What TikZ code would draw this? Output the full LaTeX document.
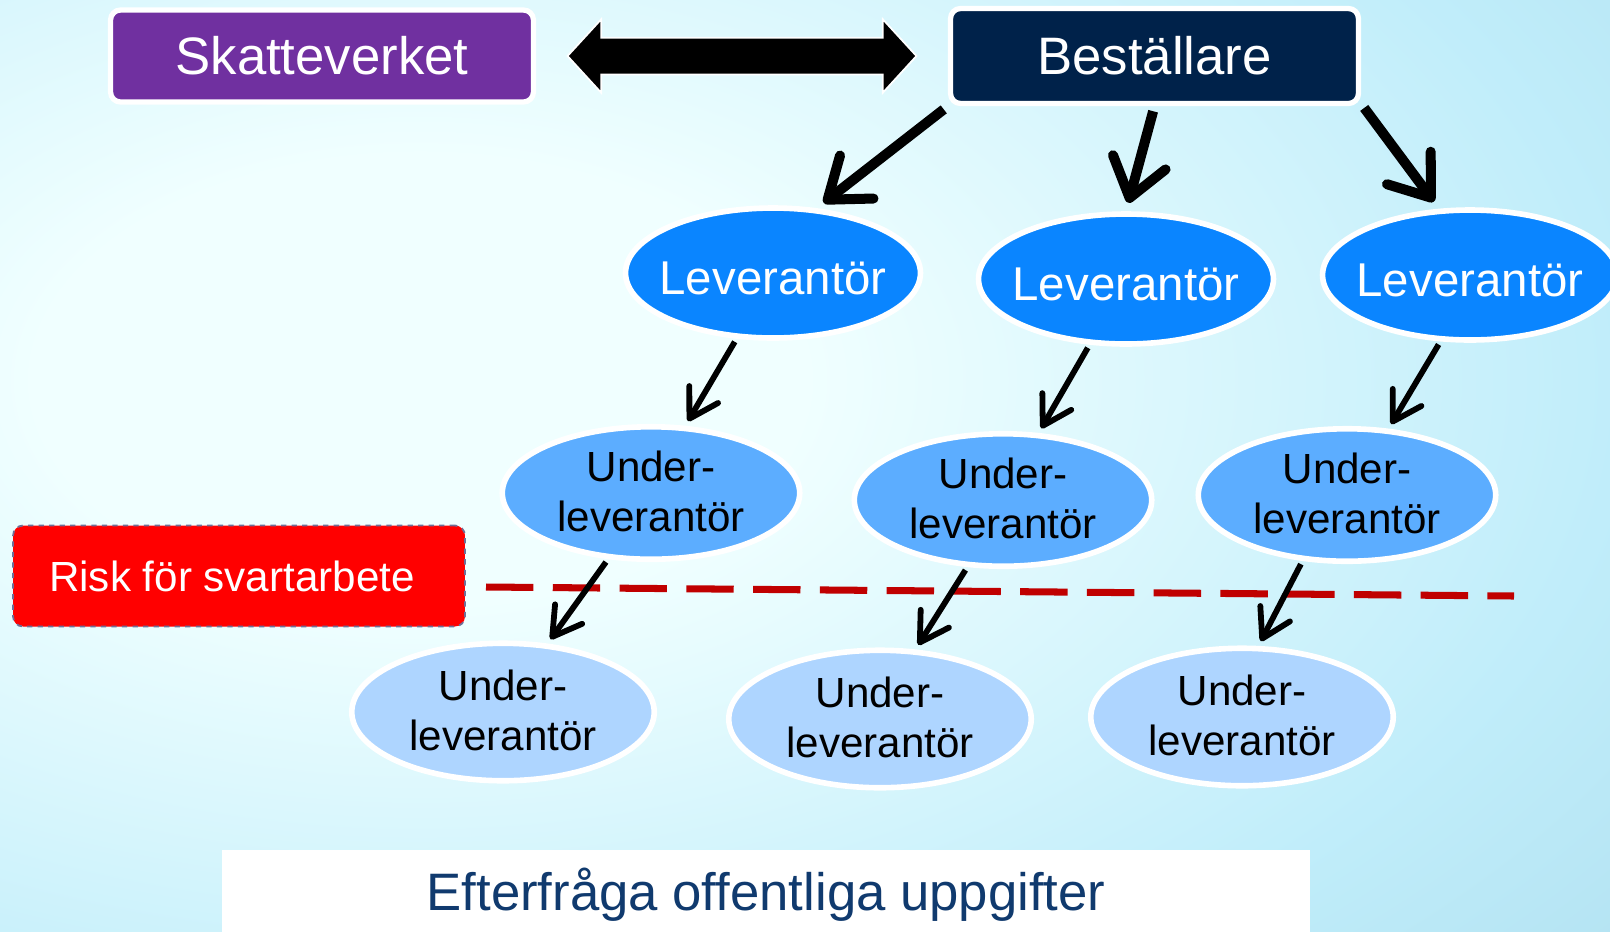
\documentclass[tikz,border=0pt]{standalone}
\usepackage{fontspec}
\setmainfont{Liberation Sans}
\usetikzlibrary{shapes.geometric,shapes.arrows,arrows.meta,calc}

\definecolor{bgc}{HTML}{F0FFFF}
\definecolor{bgm}{HTML}{C0EDFA}
\definecolor{bgo}{HTML}{98CCE0}
\definecolor{skvpurple}{HTML}{7030A0}
\definecolor{bestnavy}{HTML}{00224A}
\definecolor{levblue}{HTML}{0A85FF}
\definecolor{ulblue}{HTML}{5CADFF}
\definecolor{ullight}{HTML}{AED5FF}
\definecolor{dashred}{HTML}{C00000}
\definecolor{asknavy}{HTML}{103A6E}
\definecolor{riskedge}{HTML}{6E6E96}

\pgfdeclareradialshading{bgshade}{\pgfpoint{0bp}{0bp}}{color(0bp)=(bgc); color(8bp)=(bgc); color(25bp)=(bgm); color(50bp)=(bgo)}

\newcommand{\levtxt}{\smash{\makebox[0pt]{\raisebox{-12.5pt}{Leverantör}}}}
\newcommand{\ultxt}{\smash{\makebox[0pt]{\raisebox{-8pt}{\begin{tabular}{@{}c@{}}Under-\\leverantör\end{tabular}}}}}

\tikzset{
  topbox/.style={rectangle, rounded corners=0.2cm, draw=white, line width=3pt,
    text=white, font=\fontsize{30}{36}\selectfont, inner sep=0pt},
  levnode/.style={ellipse, draw=white, line width=3.2pt, fill=levblue, text=white,
    minimum width=5.9cm, minimum height=2.6cm, inner sep=0pt,
    font=\fontsize{27}{32}\selectfont},
  ulnode/.style={ellipse, draw=white, line width=3.2pt, fill=#1, text=black,
    minimum width=5.95cm, minimum height=2.65cm, inner sep=0pt,
    font=\fontsize{24}{28.5}\selectfont},
  dblarrow/.style={double arrow, fill=black, draw=white, line width=1pt,
    minimum height=6.98cm, minimum width=1.44cm, inner xsep=0pt, inner ysep=0.35cm,
    double arrow head extend=0.37cm, double arrow tip angle=95, outer sep=0pt},
  bigarr/.style={line width=5.7pt, -{Straight Barb[length=21pt,width=31pt,round]},
    shorten <=3pt, shorten >=5pt},
  smallarr/.style={line width=3.3pt, -{Straight Barb[length=16pt,width=19pt,round]},
    shorten <=2pt, shorten >=3pt},
  riskbox/.style={rectangle, rounded corners=0.2cm, fill=red, draw=riskedge,
    dashed, line width=1pt, text=white, minimum width=9.04cm, minimum height=2.02cm,
    font=\fontsize{24}{28}\selectfont},
  riskline/.style={draw=dashred, line width=4pt, dash pattern=on 27pt off 11pt},
  askbox/.style={rectangle, fill=white, text=asknavy, minimum width=21.78cm,
    minimum height=1.8cm, font=\fontsize{30}{36}\selectfont}
}

\begin{document}
\begin{tikzpicture}[x=0.02cm,y=-0.02cm]
\useasboundingbox (0,0) rectangle (1610,931);
\begin{scope}
\clip (0,0) rectangle (1610,931);
\shade[shading=bgshade] (-780,-320) rectangle (1620,1080);
\end{scope}

% top row
\node[topbox, fill=skvpurple, minimum width=8.46cm, minimum height=1.84cm] (skv) at (322,56) {Skatteverket};
\node[topbox, fill=bestnavy, minimum width=8.16cm, minimum height=1.9cm] (best) at (1154.5,56) {Beställare};
\node[dblarrow] (link) at ($(skv.east)!0.5!(best.west)$) {};

% leverantörer
\node[levnode] (l1) at (773,273) {\levtxt};
\node[levnode] (l2) at (1126,279) {\levtxt};
\node[levnode] (l3) at (1470,275) {\levtxt};

% underleverantörer
\node[ulnode=ulblue] (u1) at (651,493) {\ultxt};
\node[ulnode=ulblue] (u2) at (1003,500) {\ultxt};
\node[ulnode=ulblue] (u3) at (1347,495) {\ultxt};
\node[ulnode=ullight, minimum width=6.05cm, minimum height=2.75cm] (d1) at (503,712) {\ultxt};
\node[ulnode=ullight, minimum width=6.05cm, minimum height=2.75cm] (d2) at (880,719) {\ultxt};
\node[ulnode=ullight, minimum width=6.05cm, minimum height=2.75cm] (d3) at (1242,717) {\ultxt};

% risk
\node[riskbox] (risk) at (239,576) {\hspace*{-8pt}Risk för svartarbete};
\coordinate (rl) at (486,587);
\coordinate (rr) at (1514,596);
\draw[riskline] (rl) -- (rr);

\draw[bigarr] (best.south west) -- (l1.56);
\draw[bigarr] (best.south) -- (l2.north);
\draw[bigarr] (best.-13.5) -- (l3.115);

\draw[smallarr] (l1.241) -- (u1.63);
\draw[smallarr] (l2.241) -- (u2.62);
\draw[smallarr] (l3.246) -- (u3.58);
\draw[smallarr] (u1.237) -- (d1.57);
\draw[smallarr] (u2.242) -- (d2.63);
\draw[smallarr] (u3.236) -- (d3.77);

\node[askbox] (ask) at (766,895) {Efterfråga offentliga uppgifter};
\end{tikzpicture}
\end{document}
